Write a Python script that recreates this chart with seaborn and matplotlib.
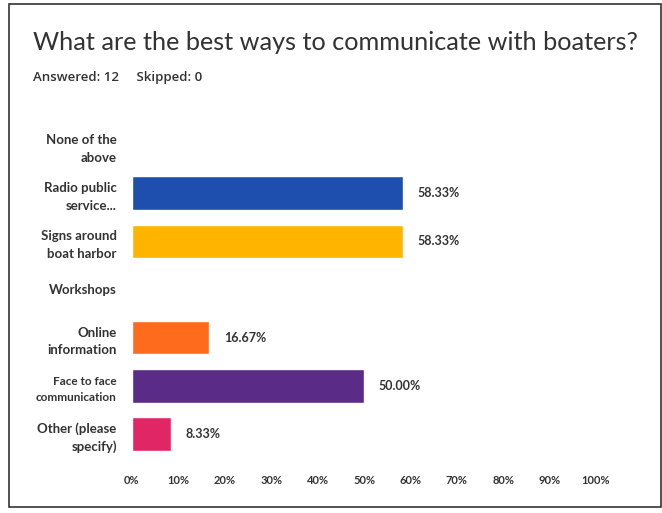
import matplotlib
matplotlib.use("Agg")
import matplotlib.pyplot as plt
from matplotlib.patches import Rectangle
import seaborn as sns
import pandas as pd

categories = ["None of the\nabove", "Radio public\nservice...", "Signs around\nboat harbor",
              "Workshops", "Online\ninformation", "Face to face\ncommunication",
              "Other (please\nspecify)"]
percent = [0.0, 58.33, 58.33, 0.0, 16.67, 50.00, 8.33]
colors = ["#2b5fc4", "#1f4fae", "#ffb400", "#7a7a7a", "#ff6b1c", "#5a2b87", "#e02665"]
ticks = [0, 10, 20, 30, 40, 50, 60, 70, 80, 90, 100]

df = pd.DataFrame({"category": categories, "percent": percent})

sns.set_theme(style="white")
plt.rcParams["font.family"] = ["Lato", "DejaVu Sans"]

W, H = 662, 513
fig = plt.figure(figsize=(W / 100, H / 100), dpi=100)
fig.patch.set_facecolor("white")

ax = fig.add_axes([132 / W, 1 - 458 / H, (596 - 132) / W, (458 - 121) / H])
sns.barplot(data=df, y="category", x="percent", hue="category", palette=colors,
            order=categories, hue_order=categories, orient="h", width=0.7,
            legend=False, ax=ax, saturation=1)

ax.set_xlim(0, 100)
ax.set_ylim(len(categories) - 0.5, -0.5)
ax.set_xticks(ticks)
ax.set_xticklabels([f"{t}%" for t in ticks], fontsize=8, fontweight="bold", color="#333333")
ax.tick_params(axis="x", length=0, pad=12)
ax.tick_params(axis="y", length=0, pad=11)
for lab in ax.get_yticklabels():
    small = lab.get_text().startswith("Face")
    lab.set_fontsize(8.5 if small else 9.5)
    lab.set_fontweight("bold")
    lab.set_color("#333333")
    lab.set_multialignment("right")
    lab.set_linespacing(1.55)
ax.set_xlabel("")
ax.set_ylabel("")
for s in ax.spines.values():
    s.set_visible(False)

for i, v in enumerate(percent):
    if v > 0:
        ax.text(v + 3.2, i, f"{v:.2f}%", va="center", ha="left", fontsize=9,
                fontweight="bold", color="#333333")

fig.text(33 / W, 1 - 42 / H, "What are the best ways to communicate with boaters?",
         fontsize=18.2, color="#333333", va="center", ha="left")
fig.text(33 / W, 1 - 78 / H, "Answered: 12     Skipped: 0",
         fontsize=9.5, fontweight="semibold", color="#333333", va="center", ha="left",
         family=["Open Sans", "DejaVu Sans"])

# outer frame
fig.add_artist(Rectangle((9 / W, 1 - 507 / H), (661 - 9) / W, (507 - 4) / H,
                         transform=fig.transFigure, fill=False, edgecolor="#333333",
                         linewidth=1.2))

fig.savefig("out.png", dpi=100, facecolor="white")
